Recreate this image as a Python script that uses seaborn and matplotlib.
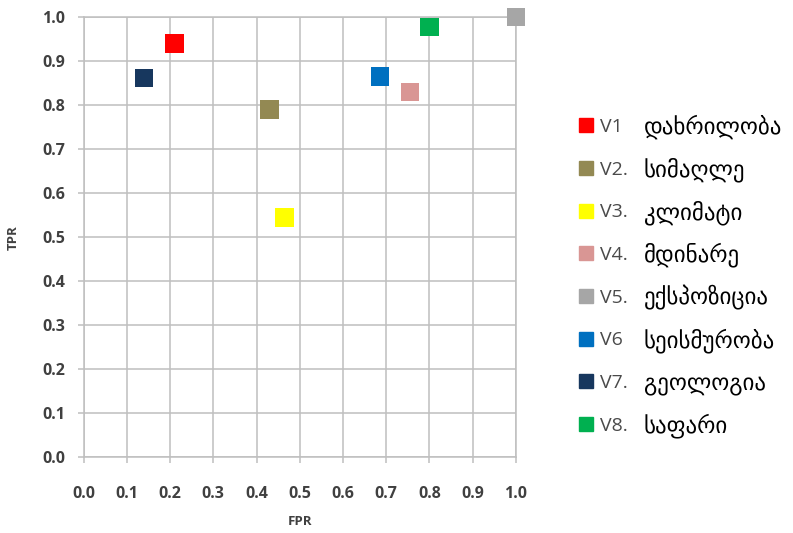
import numpy as np
import pandas as pd
import matplotlib
matplotlib.use("Agg")
import matplotlib.pyplot as plt
from matplotlib.lines import Line2D
import seaborn as sns

# ---- data ----
var_codes = ["V1", "V2.", "V3.", "V4.", "V5.", "V6", "V7.", "V8."]
var_names = ["დახრილობა", "სიმაღლე", "კლიმატი", "მდინარე",
             "ექსპოზიცია", "სეისმურობა", "გეოლოგია", "საფარი"]
fpr = [0.21, 0.43, 0.465, 0.755, 1.0, 0.685, 0.14, 0.80]
tpr = [0.94, 0.79, 0.545, 0.83, 1.0, 0.865, 0.862, 0.977]
colors = ["#FF0000", "#938953", "#FFFF00", "#D99694",
          "#A6A6A6", "#0070C0", "#17375E", "#00B050"]
ticks = [0.0, 0.1, 0.2, 0.3, 0.4, 0.5, 0.6, 0.7, 0.8, 0.9, 1.0]

df = pd.DataFrame({"FPR": fpr, "TPR": tpr, "var": var_codes})

sns.set_style("white")
plt.rcParams["font.family"] = ["Open Sans", "DejaVu Sans"]

W, H = 793, 533
fig = plt.figure(figsize=(W / 100, H / 100), dpi=100)
x0, x1, y0, y1 = 83.5, 516, 457.3, 17
ax = fig.add_axes([x0 / W, (H - y0) / H, (x1 - x0) / W, (y0 - y1) / H])

sns.scatterplot(data=df, x="FPR", y="TPR", hue="var", palette=colors,
                marker="s", s=175, linewidth=0, legend=False, ax=ax, zorder=3)
for c in ax.collections:
    c.set_clip_on(False)

ax.set_xlim(0, 1)
ax.set_ylim(0, 1)
ax.set_xticks(ticks)
ax.set_yticks(ticks)
ax.set_xticklabels([f"{t:.1f}" for t in ticks])
ax.set_yticklabels([f"{t:.1f}" for t in ticks])
gridc = "#BFBFBF"
ax.grid(True, color=gridc, linewidth=1.1)
ax.set_axisbelow(True)
for s in ax.spines.values():
    s.set_color(gridc)
    s.set_linewidth(1.1)
ax.tick_params(axis="both", colors=gridc, labelcolor="#404040",
               labelsize=11.5, length=4, width=1.1, direction="out")
ax.tick_params(axis="y", pad=9, left=True)
ax.tick_params(axis="x", pad=17, bottom=True)
for lab in ax.get_xticklabels() + ax.get_yticklabels():
    lab.set_fontweight("bold")
ax.set_xlabel("FPR", fontsize=9.5, fontweight="bold", color="#404040", labelpad=9)
ax.set_ylabel("TPR", fontsize=9.5, fontweight="bold", color="#404040", labelpad=16)

handles = [Line2D([], [], marker="s", ls="", color=c, markersize=9.5) for c in colors]
leg = fig.legend(handles, var_codes, loc="upper left",
                 bbox_to_anchor=(580 / W, 1 - 118 / H), frameon=False,
                 fontsize=14, labelspacing=1.27, handlelength=0.6,
                 handletextpad=0.43, borderpad=0, borderaxespad=0,
                 labelcolor="#4a4a4a")

fig.canvas.draw()
for t, name in zip(leg.get_texts(), var_names):
    bb = t.get_window_extent()
    yc = (bb.y0 + bb.y1) / 2
    fig.text(644 / W, yc / H, name, va="center", ha="left", fontsize=16.5,
             color="#000000", family=["DejaVu Sans"])

fig.savefig("out.png", dpi=100)
